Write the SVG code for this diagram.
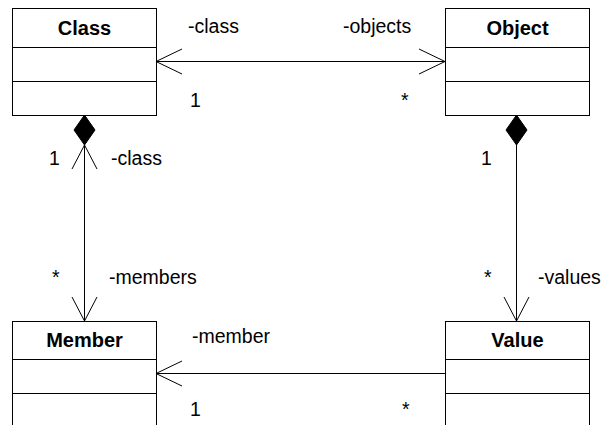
<svg xmlns="http://www.w3.org/2000/svg" width="606" height="425" viewBox="0 0 606 425">
<style>
.box{fill:#fff;stroke:#000;stroke-width:1}
.div{stroke:#000;stroke-width:1}
.title{font-family:"Liberation Sans",Arial,sans-serif;font-size:20px;font-weight:bold;text-anchor:middle;fill:#000}
.lbl{font-family:"Liberation Sans",Arial,sans-serif;font-size:19.5px;fill:#000}
.ln{fill:none;stroke:#000;stroke-width:1}
.dia{fill:#000;stroke:#000;stroke-width:1}
</style>
<rect width="606" height="425" fill="#fff"/>
<g id="connectors">
  <g id="class-object">
    <line class="ln" x1="156" y1="61.5" x2="445" y2="61.5"/>
    <polyline class="ln" points="182,49 156,61.5 182,74"/>
    <polyline class="ln" points="419,49 445,61.5 419,74"/>
    <text class="lbl" x="188" y="33">-class</text>
    <text class="lbl" x="343" y="33">-objects</text>
    <text class="lbl" x="190" y="107">1</text>
    <text class="lbl" x="401" y="107">*</text>
  </g>
  <g id="class-member">
    <line class="ln" x1="84.5" y1="145" x2="84.5" y2="321"/>
    <polygon class="dia" points="84.5,115 95,130 84.5,145 74,130"/>
    <polyline class="ln" points="72,169 84.5,145 97,169"/>
    <polyline class="ln" points="72,297 84.5,321 97,297"/>
    <text class="lbl" x="49" y="165">1</text>
    <text class="lbl" x="111" y="165">-class</text>
    <text class="lbl" x="52" y="284">*</text>
    <text class="lbl" x="109" y="284">-members</text>
  </g>
  <g id="object-value">
    <line class="ln" x1="516.5" y1="145" x2="516.5" y2="321"/>
    <polygon class="dia" points="516.5,115 527,130 516.5,145 506,130"/>
    <polyline class="ln" points="504,297 516.5,321 529,297"/>
    <text class="lbl" x="481" y="165">1</text>
    <text class="lbl" x="484" y="284">*</text>
    <text class="lbl" x="538" y="284">-values</text>
  </g>
  <g id="value-member">
    <line class="ln" x1="156" y1="373.5" x2="445" y2="373.5"/>
    <polyline class="ln" points="182,361 156,373.5 182,386"/>
    <text class="lbl" x="192" y="343">-member</text>
    <text class="lbl" x="190" y="416">1</text>
    <text class="lbl" x="402" y="416">*</text>
  </g>
</g>
<g id="Class">
  <rect class="box" x="12.5" y="8.5" width="144" height="107"/>
  <line class="div" x1="12.5" y1="47.5" x2="156.5" y2="47.5"/>
  <line class="div" x1="12.5" y1="81.5" x2="156.5" y2="81.5"/>
  <text class="title" x="84.5" y="34.5">Class</text>
</g>
<g id="Object">
  <rect class="box" x="445.5" y="8.5" width="144" height="107"/>
  <line class="div" x1="445.5" y1="47.5" x2="589.5" y2="47.5"/>
  <line class="div" x1="445.5" y1="81.5" x2="589.5" y2="81.5"/>
  <text class="title" x="517.5" y="34.5">Object</text>
</g>
<g id="Member">
  <rect class="box" x="12.5" y="321.5" width="144" height="107"/>
  <line class="div" x1="12.5" y1="359.5" x2="156.5" y2="359.5"/>
  <line class="div" x1="12.5" y1="393.5" x2="156.5" y2="393.5"/>
  <text class="title" x="84.5" y="347">Member</text>
</g>
<g id="Value">
  <rect class="box" x="445.5" y="321.5" width="144" height="107"/>
  <line class="div" x1="445.5" y1="359.5" x2="589.5" y2="359.5"/>
  <line class="div" x1="445.5" y1="393.5" x2="589.5" y2="393.5"/>
  <text class="title" x="517.5" y="347">Value</text>
</g>
</svg>
